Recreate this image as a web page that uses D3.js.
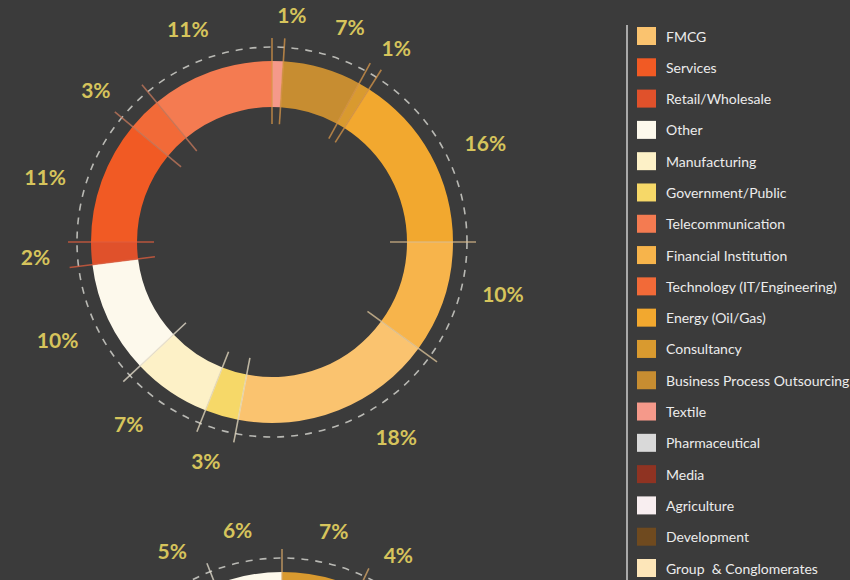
<!DOCTYPE html>
<html>
<head>
<meta charset="utf-8">
<script src="https://cdn.jsdelivr.net/npm/d3@7/dist/d3.min.js"></script>
<style>
  html, body { margin: 0; padding: 0; background: #3b3b3b; }
  svg { display: block; }
</style>
</head>
<body>
<svg id="chart" width="850" height="580"></svg>
<script>
// Industry split (percent), clockwise from 12 o'clock
const sectors = ["Textile", "Business Process Outsourcing", "Consultancy", "Energy (Oil/Gas)",
  "Financial Institution", "FMCG", "Government/Public", "Manufacturing", "Other",
  "Retail/Wholesale", "Services", "Technology (IT/Engineering)", "Telecommunication"];
const shares = [1, 7, 1, 16, 10, 18, 3, 7, 10, 2, 11, 3, 11];

// Second ring: only its top segment is on the page
const sectors2 = ["(5%)", "Other", "Consultancy", "(4%)"];
const shares2 = [5, 6, 7, 4];
const offset2 = -11; // percent of the ring before 12 o'clock

// Legend entries
const legendNames = ["FMCG", "Services", "Retail/Wholesale", "Other", "Manufacturing",
  "Government/Public", "Telecommunication", "Financial Institution",
  "Technology (IT/Engineering)", "Energy (Oil/Gas)", "Consultancy",
  "Business Process Outsourcing", "Textile", "Pharmaceutical", "Media",
  "Agriculture", "Development", "Group  & Conglomerates"];

const palette = {
  "FMCG": "#fac36f", "Services": "#f15a24", "Retail/Wholesale": "#e0512b",
  "Other": "#fdf9ec", "Manufacturing": "#fdf1c7", "Government/Public": "#f6d868",
  "Telecommunication": "#f47b51", "Financial Institution": "#f7b44b",
  "Technology (IT/Engineering)": "#f26a38", "Energy (Oil/Gas)": "#f2a82f",
  "Consultancy": "#d99a2f", "Business Process Outsourcing": "#c78d31",
  "Textile": "#f5998a", "Pharmaceutical": "#d9d9d9", "Media": "#8f3322",
  "Agriculture": "#f8eef0", "Development": "#6f4a1f", "Group  & Conglomerates": "#fde6b9",
  "(5%)": "#f0e6c8", "(4%)": "#c78d31"
};

// divider colour at the start of each slice
const tickColors = ["#d8974a", "#d8974a", "#d8974a", "#d8974a", "#dcbb8c", "#e0c79c",
  "#eadfc4", "#eadfc4", "#ebe3d2", "#e05e3e", "#e05e3e", "#c87a5c", "#c87a5c"];
const tickColors2 = ["#e6e0d0", "#e6e0d0", "#d8a868", "#d8a868"];
// small angular nudges (degrees) for the percentage labels
const labelNudge = [3, 3, 1, 3, -5, -10, 0, 3, 0, 0, -3, -3, -1];
const labelNudge2 = [3, 0, 0, -3];

const svg = d3.select("#chart");
const LABEL = "#d6c45c";
const R_IN = 135, R_OUT = 181, R_DASH = 195, T_IN = 118, T_OUT = 204;
const LAB_RX = 237, LAB_RY = 228;
const deg = Math.PI / 180;

function drawDonut(cx, cy, names, values, startPct, tColors, nudges, totalPct) {
  const g = svg.append("g").attr("transform", `translate(${cx},${cy})`);
  const a0 = startPct / 100 * 2 * Math.PI;
  const a1 = a0 + totalPct / 100 * 2 * Math.PI;
  const pie = d3.pie().sort(null).value(d => d.v).startAngle(a0).endAngle(a1);
  const arcs = pie(names.map((n, i) => ({ n, v: values[i], i })));
  const arc = d3.arc().innerRadius(R_IN).outerRadius(R_OUT);

  g.append("circle").attr("r", R_DASH).attr("fill", "none")
    .attr("stroke", "#b9b9b4").attr("stroke-width", 1.6)
    .attr("stroke-dasharray", "7,7");

  g.selectAll("path.slice").data(arcs).join("path")
    .attr("class", "slice").attr("d", arc)
    .attr("fill", d => palette[d.data.n]);

  const pt = (a, r) => [Math.sin(a) * r, -Math.cos(a) * r];
  g.selectAll("line.tick").data(arcs).join("line")
    .attr("class", "tick")
    .attr("x1", d => pt(d.startAngle, T_IN)[0]).attr("y1", d => pt(d.startAngle, T_IN)[1])
    .attr("x2", d => pt(d.startAngle, T_OUT)[0]).attr("y2", d => pt(d.startAngle, T_OUT)[1])
    .attr("stroke", d => tColors[d.data.i]).attr("stroke-width", 1.6)
    .attr("stroke-opacity", 0.75);

  const labAngle = d => (d.startAngle + d.endAngle) / 2 + nudges[d.data.i] * deg;
  g.selectAll("text.pct").data(arcs).join("text")
    .attr("class", "pct")
    .attr("x", d => Math.sin(labAngle(d)) * LAB_RX)
    .attr("y", d => -Math.cos(labAngle(d)) * LAB_RY)
    .attr("text-anchor", "middle").attr("dominant-baseline", "central")
    .attr("font-family", "Lato, 'Open Sans', sans-serif").attr("font-weight", 700)
    .attr("font-size", 21).attr("fill", LABEL)
    .text(d => d.data.v + "%");
}

drawDonut(272, 242, sectors, shares, 0, tickColors, labelNudge, 100);
drawDonut(282, 753, sectors2, shares2, offset2, tickColors2, labelNudge2, d3.sum(shares2));

// legend
const lg = svg.append("g");
lg.append("line").attr("x1", 627).attr("x2", 627).attr("y1", 25).attr("y2", 580)
  .attr("stroke", "#a9a9a9").attr("stroke-width", 2);
const ly = d3.scalePoint().domain(legendNames).range([36, 568]);
const rows = lg.selectAll("g.row").data(legendNames).join("g")
  .attr("class", "row").attr("transform", d => `translate(0,${ly(d)})`);
rows.append("rect").attr("x", 637).attr("y", -9).attr("width", 19).attr("height", 18)
  .attr("fill", d => palette[d]);
rows.append("text").attr("x", 666).attr("y", 0).attr("dominant-baseline", "central")
  .attr("font-family", "Lato, 'Open Sans', sans-serif").attr("font-size", 14)
  .attr("fill", "#ececec").style("white-space", "pre").text(d => d);
</script>
</body>
</html>
